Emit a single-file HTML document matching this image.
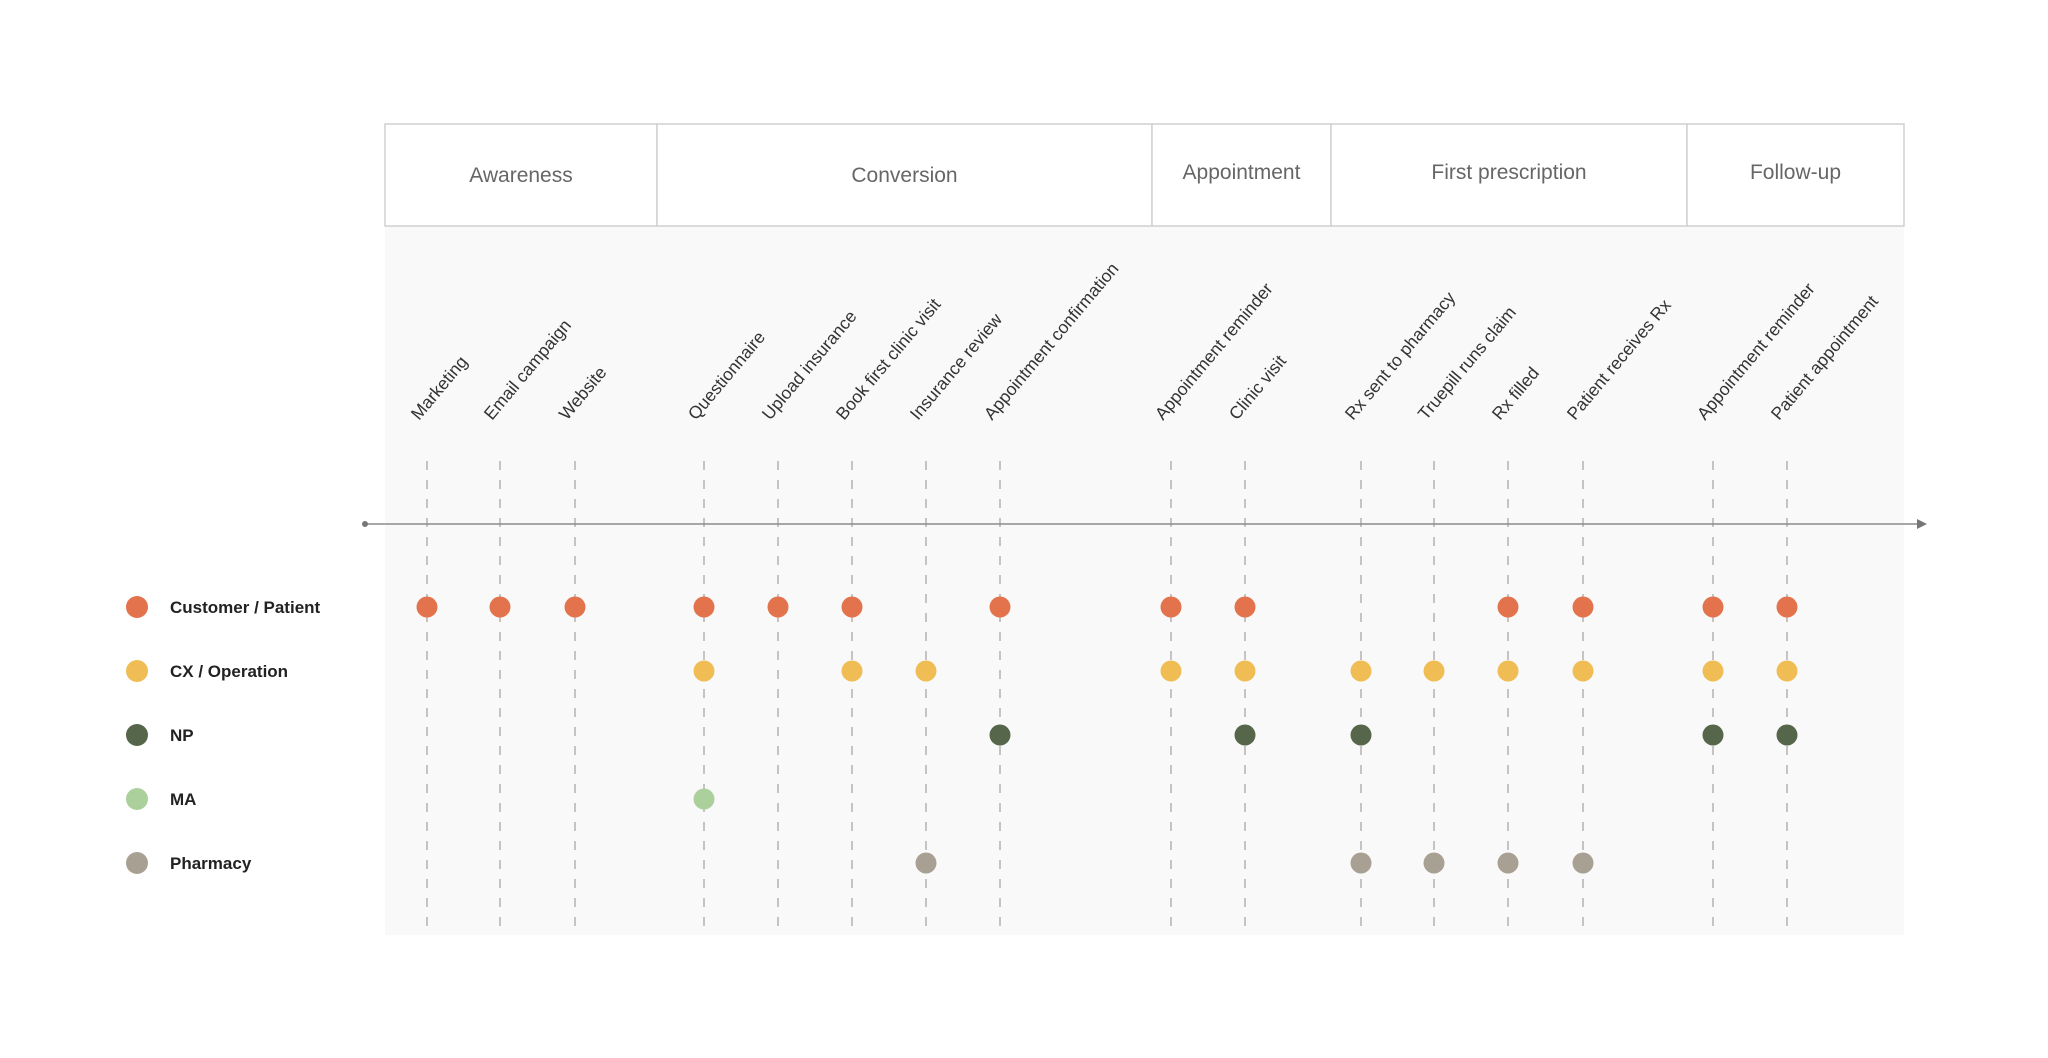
<!DOCTYPE html>
<html><head><meta charset="utf-8"><style>
html,body{margin:0;padding:0;background:#fff;}
svg{display:block;font-family:"Liberation Sans",sans-serif;}
</style></head><body>
<svg id="chart" width="2048" height="1058" viewBox="0 0 2048 1058">
<rect x="385" y="226" width="1519" height="709" fill="#f9f9f9"/>
<g id="phases"></g>
<g id="grid"></g>
<line x1="364" y1="524" x2="1918" y2="524" stroke="#8a8a8a" stroke-width="1.5"/>
<circle cx="365" cy="524" r="3" fill="#777"/>
<polygon points="1927,524 1917,519 1917,529" fill="#777"/>
<g id="labels"></g>
<g id="legend"></g>
<g id="dots"></g>
</svg>
<script>
const phases = ["Awareness","Conversion","Appointment","First prescription","Follow-up"];
const phaseBounds = [385,657,1152,1331,1687,1904];
const steps = ["Marketing","Email campaign","Website","Questionnaire","Upload insurance","Book first clinic visit","Insurance review","Appointment confirmation","Appointment reminder","Clinic visit","Rx sent to pharmacy","Truepill runs claim","Rx filled","Patient receives Rx","Appointment reminder","Patient appointment"];
const stepPos = [427,500,575,704,778,852,926,1000,1171,1245,1361,1434,1508,1583,1713,1787];
const roles = ["Customer / Patient","CX / Operation","NP","MA","Pharmacy"];
const roleColors = ["#e2734d","#f0bd55","#56664a","#abd09b","#a8a092"];
const customerSteps = [0,1,2,3,4,5,7,8,9,12,13,14,15];
const cxSteps = [3,5,6,8,9,10,11,12,13,14,15];
const npSteps = [7,9,10,14,15];
const maSteps = [3];
const pharmacySteps = [6,10,11,12,13];
const roleSteps = [customerSteps,cxSteps,npSteps,maSteps,pharmacySteps];

const NS="http://www.w3.org/2000/svg";
function mk(t,a,p){const e=document.createElementNS(NS,t);for(const k in a)e.setAttribute(k,a[k]);p.appendChild(e);return e;}
const rowY=i=>607+i*64;
const ph=document.getElementById('phases');
phases.forEach((n,i)=>{
  const x0=phaseBounds[i],x1=phaseBounds[i+1];
  const r=mk('rect',{x:x0,y:124,width:x1-x0,height:102,fill:'#fff',stroke:'#d0d0d0','stroke-width':1.5},ph);
  
  
  const t=mk('text',{x:(x0+x1)/2,y:i<2?182:179,'text-anchor':'middle','font-size':21,fill:'#666'},ph);
  t.textContent=n;
  
  
});
const g=document.getElementById('grid'),lb=document.getElementById('labels');
steps.forEach((s,i)=>{
  const x=stepPos[i];
  const l=mk('line',{x1:x,y1:461,x2:x,y2:935,stroke:'#a0a0a0','stroke-width':1.2,'stroke-dasharray':'9 10'},g);
  
  
  const t=mk('text',{x:x-8,y:421,'font-size':17.5,fill:'#333',transform:`rotate(-50 ${x-8} 421)`},lb);
  t.textContent=s;
  
  
});
const lg=document.getElementById('legend'),d=document.getElementById('dots');
roles.forEach((r,i)=>{
  const y=rowY(i);
  const c=mk('circle',{cx:137,cy:y,r:11,fill:roleColors[i]},lg);
  
  
  const t=mk('text',{x:170,y:y+6,'font-size':17,'font-weight':'bold',fill:'#222'},lg);
  t.textContent=r;
  
  
  roleSteps[i].forEach(si=>{
    const p=mk('circle',{cx:stepPos[si],cy:y,r:10.5,fill:roleColors[i]},d);
    
    
  });
});
</script>
</body></html>
